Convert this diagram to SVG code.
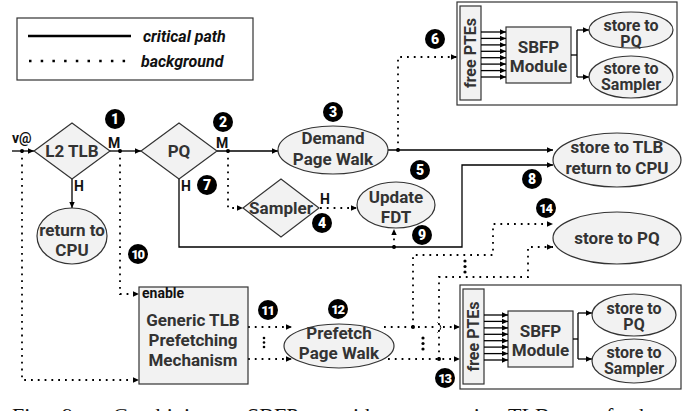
<svg xmlns="http://www.w3.org/2000/svg" width="697" height="411" viewBox="0 0 697 411">
<defs>
<marker id="ah" viewBox="0 0 10 10" refX="10" refY="5" markerWidth="7" markerHeight="6" orient="auto" markerUnits="userSpaceOnUse"><path d="M0,0.5 L10,5 L0,9.5 z" fill="#000"/></marker>
</defs>
<style>
.t{font-family:Roboto,"Liberation Sans",sans-serif;font-weight:bold;font-size:17px;fill:#333;text-anchor:middle}
.m{font-size:16px}
.l{font-family:Roboto,"Liberation Sans",sans-serif;font-weight:bold;font-size:14px;fill:#111}
.lg{font-family:Roboto,"Liberation Sans",sans-serif;font-weight:bold;font-style:italic;font-size:16px;fill:#111}
.sh{fill:#f2f2f2;stroke:#333;stroke-width:1.2}
.box{fill:#fff;stroke:#333;stroke-width:1.2}
.s{fill:none;stroke:#000;stroke-width:1.3}
.d{fill:none;stroke:#000;stroke-width:1.8;stroke-dasharray:1.8 5}
.bd circle{fill:#000}
.bd text{font-family:Roboto,"Liberation Sans",sans-serif;font-weight:900;font-size:14px;fill:#fff;text-anchor:middle}
.bd .w{font-size:13px;letter-spacing:-1.2px}
.cap{font-family:"Liberation Serif",serif;font-size:22px;fill:#111}
</style>

<g id="legend">
<rect x="17" y="18" width="236" height="62" fill="none" stroke="#333" stroke-width="1.2"/>
<line x1="28" y1="36" x2="131" y2="36" stroke="#000" stroke-width="2.5"/>
<line x1="29" y1="61" x2="134" y2="61" stroke="#000" stroke-width="2.5" stroke-dasharray="2.5 9.2"/>
<text class="lg" x="143" y="42">critical path</text>
<text class="lg" x="141" y="67">background</text>
</g>

<g id="connectors">
<path class="s" d="M12,151 H34" marker-end="url(#ah)"/>
<path class="s" d="M109,151 H141" marker-end="url(#ah)"/>
<path class="s" d="M72,178 V208" marker-end="url(#ah)"/>
<path class="s" d="M217,151 H278" marker-end="url(#ah)"/>
<path class="s" d="M388,150 H553" marker-end="url(#ah)"/>
<path class="s" d="M179,178 V247 H462 V165 H553" marker-end="url(#ah)"/>
<path class="d" d="M22,151 V380 H139" marker-end="url(#ah)"/>
<path class="d" d="M120,151 V294 H139" marker-end="url(#ah)"/>
<path class="d" d="M228,151 V208 H243" marker-end="url(#ah)"/>
<path class="d" d="M320,208 H357" marker-end="url(#ah)"/>
<path class="d" d="M394,247 V229" marker-end="url(#ah)"/>
<path class="d" d="M398,150 V57 H457" marker-end="url(#ah)"/>
<path class="d" d="M248,327 H292" marker-end="url(#ah)"/>
<path class="d" d="M248,359 H292" marker-end="url(#ah)"/>
<path class="d" d="M384,327 H436"/>
<path class="d" d="M443,327 H460" marker-end="url(#ah)"/>
<path d="M437.5,322.5 Q444,327.5 437.5,332.5" fill="none" stroke="#000" stroke-width="1"/>
<path class="d" d="M388,359 H460" marker-end="url(#ah)"/>
<path class="d" d="M413,327 V255 H493 V224 H553" marker-end="url(#ah)"/>
<path class="d" d="M439,359 V277 H528 V247 H553" marker-end="url(#ah)"/>
<g fill="#000">
<circle cx="22" cy="151" r="2"/>
<circle cx="120" cy="151" r="2"/>
<circle cx="228" cy="151" r="2"/>
<circle cx="398" cy="150" r="2"/>
<circle cx="394" cy="247" r="2"/>
<circle cx="413" cy="327" r="2"/>
<circle cx="439" cy="359" r="2"/>
<circle cx="264" cy="338" r="1.3"/><circle cx="264" cy="342.5" r="1.3"/><circle cx="264" cy="347" r="1.3"/>
<circle cx="423" cy="338" r="1.6"/><circle cx="423" cy="343.5" r="1.6"/><circle cx="423" cy="349" r="1.6"/>
<circle cx="465" cy="261" r="1.6"/><circle cx="465" cy="266.5" r="1.6"/><circle cx="465" cy="272" r="1.6"/>
</g>
<text class="l" x="12" y="143" font-size="15">v@</text>
<text class="l" x="108" y="148">M</text>
<text class="l" x="74" y="191">H</text>
<text class="l" x="216" y="148">M</text>
<text class="l" x="181" y="191">H</text>
<text class="l" x="320" y="204">H</text>
</g>

<g id="l2tlb"><path class="sh" d="M34,151 L72,123 L110,151 L72,179 Z"/><text class="t" x="72" y="157">L2 TLB</text></g>
<g id="pq"><path class="sh" d="M141,151 L179,123 L217,151 L179,179 Z"/><text class="t" x="179" y="157">PQ</text></g>
<g id="returncpu"><ellipse class="sh" cx="72" cy="236" rx="35" ry="28"/><text class="t" x="72" y="236">return to</text><text class="t" x="72" y="256">CPU</text></g>
<g id="demand"><ellipse class="sh" cx="333" cy="150" rx="55" ry="24"/><text class="t" x="333" y="144">Demand</text><text class="t" x="333" y="165">Page Walk</text></g>
<g id="sampler"><path class="sh" d="M243,208 L281,179 L319,208 L281,237 Z"/><text class="t" x="281" y="214">Sampler</text></g>
<g id="fdt"><ellipse class="sh" cx="396" cy="205" rx="39" ry="23"/><text class="t" x="396" y="203">Update</text><text class="t" x="396" y="223">FDT</text></g>
<g id="storetlb"><ellipse class="sh" cx="617" cy="160" rx="64" ry="27"/><text class="t" x="617" y="153">store to TLB</text><text class="t" x="617" y="174">return to CPU</text></g>
<g id="storepq"><ellipse class="sh" cx="617" cy="238" rx="64" ry="26"/><text class="t" x="617" y="244">store to PQ</text></g>
<g id="generic"><rect class="sh" x="139" y="287" width="109" height="97"/><text class="l" x="142" y="298" font-size="11">enable</text><text class="t" x="193" y="326">Generic TLB</text><text class="t" x="193" y="346">Prefetching</text><text class="t" x="193" y="366">Mechanism</text></g>
<g id="prefetch"><ellipse class="sh" cx="339" cy="346" rx="55" ry="22"/><text class="t" x="339" y="339">Prefetch</text><text class="t" x="339" y="359">Page Walk</text></g>

<g id="sbfp-top" transform="translate(457,2)">
<rect class="box" x="0" y="0" width="220" height="103"/>
<rect class="sh" x="3" y="4" width="21" height="94"/>
<text class="t m" transform="translate(19,51) rotate(-90)">free PTEs</text>
<rect class="sh" x="49" y="25" width="65" height="56"/>
<text class="t" x="81.5" y="51">SBFP</text><text class="t" x="81.5" y="70">Module</text>
<g class="s" marker-end="url(#ah)">
<path d="M24,30 H49"/><path d="M24,36.4 H49"/><path d="M24,42.9 H49"/><path d="M24,49.3 H49"/><path d="M24,55.7 H49"/><path d="M24,62.1 H49"/><path d="M24,68.6 H49"/><path d="M24,75 H49"/>
</g>
<path class="s" d="M114,53 H120"/>
<path class="s" d="M120,28 V75"/>
<path class="s" d="M120,28 H132" marker-end="url(#ah)"/>
<path class="s" d="M120,75 H132" marker-end="url(#ah)"/>
<ellipse class="sh" cx="174" cy="28" rx="42" ry="18"/>
<text class="t m" x="174" y="29">store to</text><text class="t m" x="174" y="45">PQ</text>
<ellipse class="sh" cx="174" cy="75" rx="42" ry="21"/>
<text class="t m" x="174" y="72">store to</text><text class="t m" x="174" y="88">Sampler</text>
</g>

<g id="sbfp-bottom" transform="translate(460,285)">
<rect class="box" x="0" y="0" width="221" height="104"/>
<rect class="sh" x="3" y="4" width="21" height="95"/>
<text class="t m" transform="translate(19,51.5) rotate(-90)">free PTEs</text>
<rect class="sh" x="48" y="26" width="65" height="56"/>
<text class="t" x="80.5" y="52">SBFP</text><text class="t" x="80.5" y="71">Module</text>
<g class="s" marker-end="url(#ah)">
<path d="M24,30 H48"/><path d="M24,36.4 H48"/><path d="M24,42.9 H48"/><path d="M24,49.3 H48"/><path d="M24,55.7 H48"/><path d="M24,62.1 H48"/><path d="M24,68.6 H48"/><path d="M24,75 H48"/>
</g>
<path class="s" d="M113,54 H118"/>
<path class="s" d="M118,28 V74"/>
<path class="s" d="M118,28 H132" marker-end="url(#ah)"/>
<path class="s" d="M118,74 H132" marker-end="url(#ah)"/>
<ellipse class="sh" cx="174" cy="30" rx="42" ry="21"/>
<text class="t m" x="174" y="29">store to</text><text class="t m" x="174" y="45">PQ</text>
<ellipse class="sh" cx="174" cy="76" rx="42" ry="22"/>
<text class="t m" x="174" y="73">store to</text><text class="t m" x="174" y="89">Sampler</text>
</g>

<g id="badges" class="bd">
<circle cx="115" cy="119" r="10"/><text x="115" y="124">1</text>
<circle cx="223" cy="122" r="10"/><text x="223" y="127">2</text>
<circle cx="333" cy="112" r="10"/><text x="333" y="117">3</text>
<circle cx="322" cy="223" r="10"/><text x="322" y="228">4</text>
<circle cx="420" cy="170" r="10"/><text x="420" y="175">5</text>
<circle cx="435" cy="39" r="10"/><text x="435" y="44">6</text>
<circle cx="207" cy="185" r="10"/><text x="207" y="190">7</text>
<circle cx="532" cy="179" r="10"/><text x="532" y="184">8</text>
<circle cx="422" cy="235" r="10"/><text x="422" y="240">9</text>
<circle cx="138" cy="254" r="10"/><text class="w" x="137.5" y="258.5">10</text>
<circle cx="268" cy="310" r="10"/><text class="w" x="267.5" y="314.5">11</text>
<circle cx="338" cy="309" r="10"/><text class="w" x="337.5" y="313.5">12</text>
<circle cx="445" cy="378" r="10"/><text class="w" x="444.5" y="382.5">13</text>
<circle cx="546" cy="208" r="10"/><text class="w" x="545.5" y="212.5">14</text>
</g>

<text class="cap" y="423"><tspan x="12">Fig.</tspan><tspan x="62">9:</tspan><tspan x="113">Combining</tspan><tspan x="247">SBFP</tspan><tspan x="337">with</tspan><tspan x="395">a</tspan><tspan x="425">generic</tspan><tspan x="508">TLB</tspan><tspan x="578">prefetcher</tspan></text>
</svg>
